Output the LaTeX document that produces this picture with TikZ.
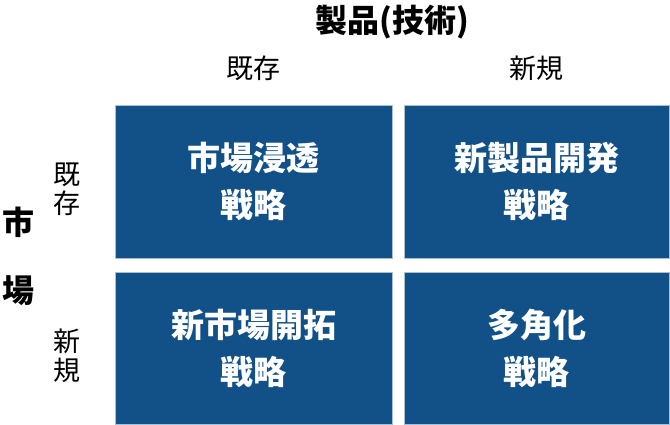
\documentclass[tikz,border=0pt]{standalone}
\usepackage{fontspec}
\newfontfamily\cjk{Noto Sans CJK JP}
\definecolor{cellblue}{RGB}{18,80,136}
\definecolor{cellborder}{RGB}{170,190,212}
\begin{document}
\begin{tikzpicture}[x=1pt,y=-1pt]
\useasboundingbox (0,0) rectangle (670,425);
\tikzset{
  cell/.style={draw=cellborder, fill=cellblue, line width=0.8pt, anchor=north west,
    inner sep=0pt, text=white, align=center,
    font=\cjk\bfseries\fontsize{33}{47}\selectfont},
  head/.style={font=\cjk\fontsize{27}{29}\selectfont, align=center, inner sep=0pt},
  axis/.style={font=\cjk\bfseries\fontsize{32}{34}\selectfont, align=center, inner sep=0pt}
}
\node[cell, minimum width=277pt, minimum height=153pt] (a) at (115,105) {市場浸透\\戦略};
\node[cell, minimum width=265pt, minimum height=153pt] (b) at (404,105) {新製品開発\\戦略};
\node[cell, minimum width=277pt, minimum height=152pt] (c) at (115,272) {新市場開拓\\戦略};
\node[cell, minimum width=265pt, minimum height=152pt] (d) at (404,272) {多角化\\戦略};
\node[axis] (title) at (392,22) {製品(技術)};
\node[head] (h1) at (253,68) {既存};
\node[head] (h2) at (536,68) {新規};
\node[axis] (m1) at (18,222) {市};
\node[axis] (m2) at (18,291) {場};
\node[head] (v1) at (67,189) {既\\存};
\node[head] (v2) at (67,356) {新\\規};
\end{tikzpicture}
\end{document}
